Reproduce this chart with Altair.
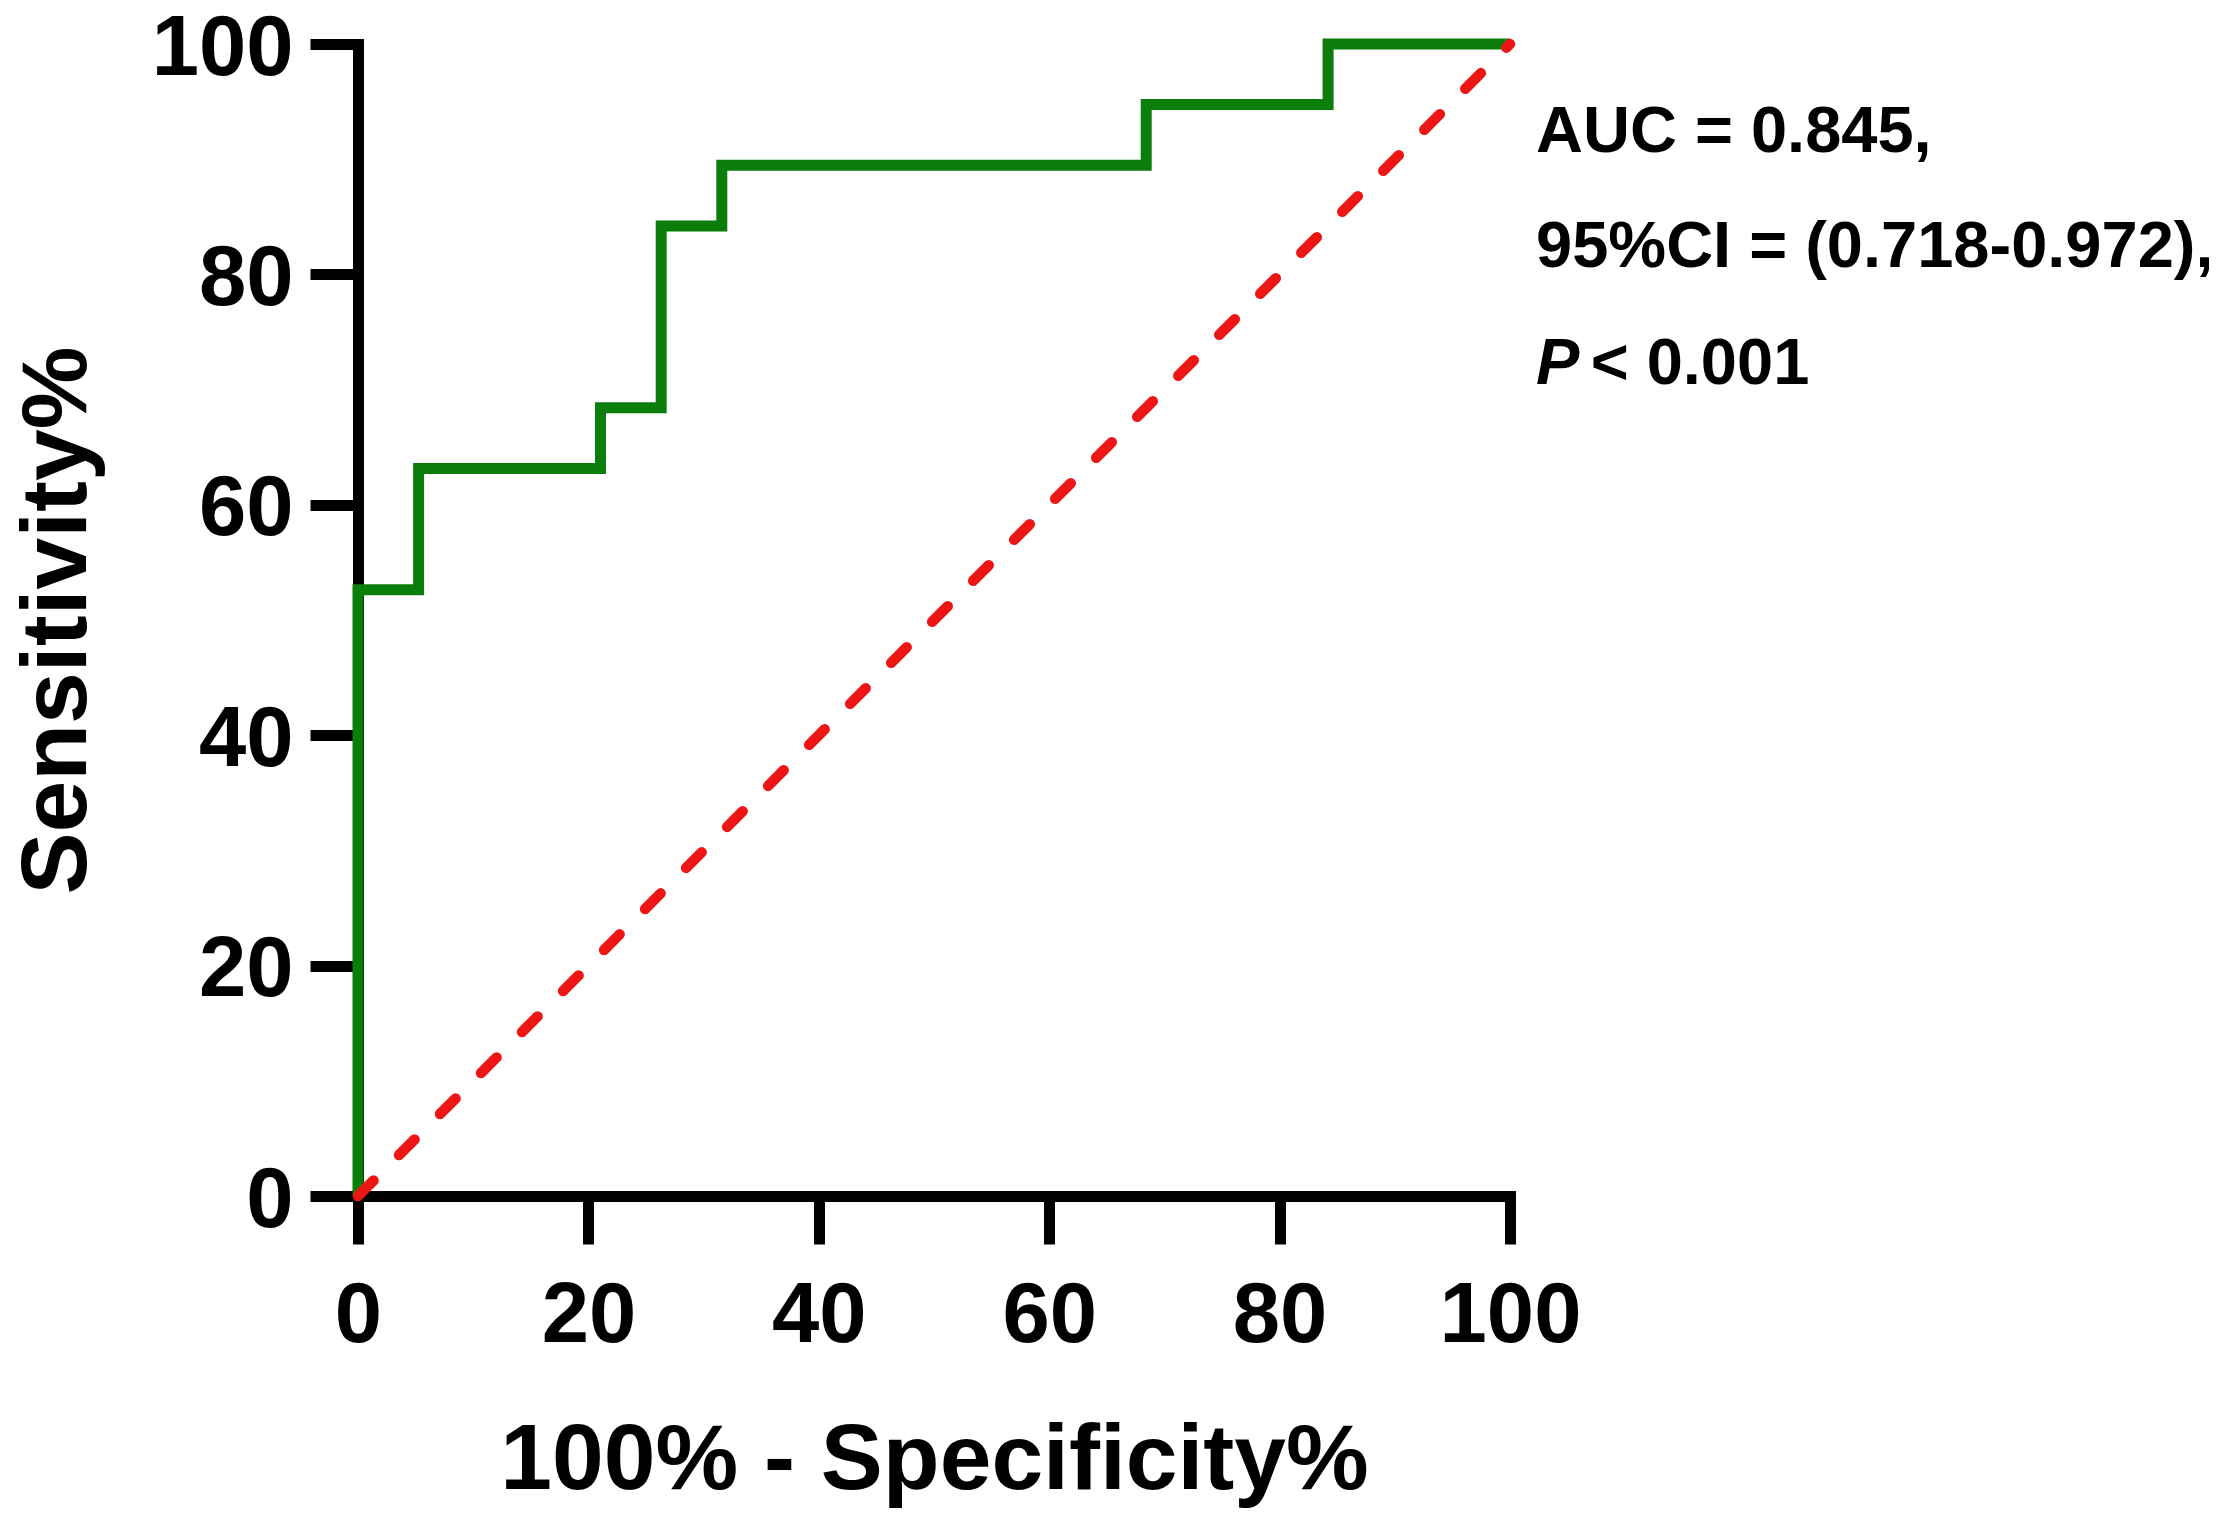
import altair as alt
import pandas as pd

# ROC curve (100% - Specificity%, Sensitivity%)
fpr = [0, 0, 5.26, 5.26, 21.05, 21.05, 26.32, 26.32, 31.58, 31.58, 68.42, 68.42, 84.21, 84.21, 100]
tpr = [0, 52.63, 52.63, 63.16, 63.16, 68.42, 68.42, 84.21, 84.21, 89.47, 89.47, 94.74, 94.74, 100, 100]

# reference (chance) line
ref_x = [0, 100]
ref_y = [0, 100]

tick_values = [0, 20, 40, 60, 80, 100]

ann_lines = ["AUC = 0.845,", "95%CI = (0.718-0.972),", "< 0.001"]
ann_x = [102.26, 102.26, 107.0]
ann_y = [90.6, 80.6, 70.5]
p_label = "P"

FONT = "Liberation Sans"

roc_df = pd.DataFrame({"x": fpr, "y": tpr, "i": list(range(len(fpr)))})
ref_df = pd.DataFrame({"x": ref_x, "y": ref_y, "i": [0, 1]})
ann_df = pd.DataFrame({"x": ann_x, "y": ann_y, "t": ann_lines})
p_df = pd.DataFrame({"x": [ann_x[0]], "y": [ann_y[2]], "t": [p_label]})

xscale = alt.Scale(domain=[0, 100], nice=False, zero=False)
yscale = alt.Scale(domain=[0, 100], nice=False, zero=False)

x_axis = alt.Axis(
    values=tick_values, title="100% - Specificity%", grid=False,
    labelPadding=30, titleX=576, titleY=292, titleBaseline="alphabetic",
    titleAlign="center", titleAngle=0,
)
y_axis = alt.Axis(
    values=tick_values, title="Sensitivity%", grid=False,
    labelPadding=17, labelOffset=4, titleX=-273, titleY=576, titleAngle=270,
    titleBaseline="alphabetic", titleAlign="center",
)

roc = alt.Chart(roc_df).mark_line(
    color="#0b7d0b", strokeWidth=11, strokeJoin="miter", strokeCap="butt"
).encode(
    x=alt.X("x:Q", scale=xscale, axis=x_axis),
    y=alt.Y("y:Q", scale=yscale, axis=y_axis),
    order="i:Q",
)

ref = alt.Chart(ref_df).mark_line(
    color="#ee1515", strokeWidth=10.5, strokeDash=[22, 36], strokeCap="round"
).encode(
    x=alt.X("x:Q", scale=xscale),
    y=alt.Y("y:Q", scale=yscale),
    order="i:Q",
)

ann = alt.Chart(ann_df).mark_text(
    font=FONT, fontSize=65, fontWeight="bold", align="left",
    baseline="alphabetic", color="black",
).encode(
    x=alt.X("x:Q", scale=xscale),
    y=alt.Y("y:Q", scale=yscale),
    text="t:N",
)

p_txt = alt.Chart(p_df).mark_text(
    font=FONT, fontSize=65, fontWeight="bold", fontStyle="italic", align="left",
    baseline="alphabetic", color="black",
).encode(
    x=alt.X("x:Q", scale=xscale),
    y=alt.Y("y:Q", scale=yscale),
    text="t:N",
)

chart = alt.layer(roc, ref, ann, p_txt).properties(
    width=1152, height=1152,
    autosize=alt.AutoSizeParams(type="none"),
    padding={"left": 350, "top": 36, "right": 699, "bottom": 312},
    background="white",
).configure_view(
    stroke=None
).configure_axis(
    domainColor="black", domainWidth=11, domainCap="square",
    tickColor="black", tickWidth=11, tickSize=48,
    labelFont=FONT, labelFontSize=85, labelFontWeight="bold", labelColor="black",
    labelFlush=False, labelOverlap=False,
    titleFont=FONT, titleFontSize=93, titleFontWeight="bold", titleColor="black",
)

chart.save("out.html", embed_options={"renderer": "svg", "actions": False})
